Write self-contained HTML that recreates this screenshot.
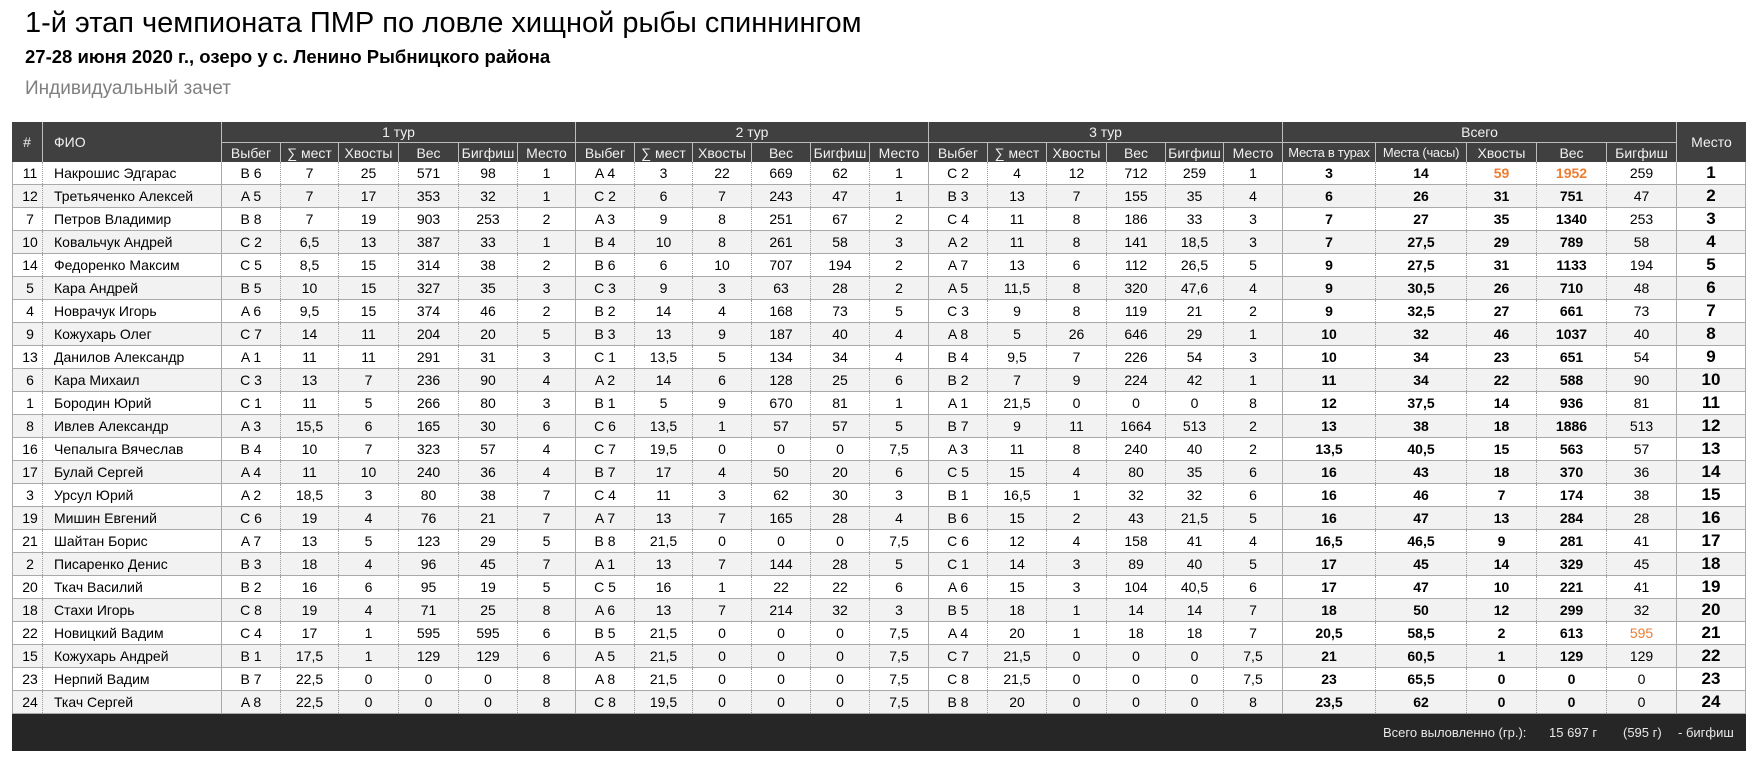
<!DOCTYPE html>
<html><head><meta charset="utf-8">
<style>
html,body{margin:0;padding:0}
body{width:1760px;height:770px;background:#fff;position:relative;overflow:hidden;font-family:"Liberation Sans",sans-serif;color:#000}
.t1{position:absolute;left:25px;top:9px;font-size:29px;line-height:29px;white-space:nowrap}
.t2{position:absolute;left:25px;top:47px;font-size:18.5px;line-height:19px;font-weight:bold;white-space:nowrap}
.t3{position:absolute;left:25px;top:79px;font-size:19px;line-height:19px;color:#7f7f7f;white-space:nowrap}
.h{position:absolute;left:12px;top:122px;width:1734px;height:40px;background:#404040;color:#f0f0f0;font-size:14px}
.hc{position:absolute;top:0;box-sizing:border-box;border-right:1px solid #bdbdbd;display:flex;align-items:center;justify-content:center;white-space:nowrap}
.g{height:21px;border-bottom:1px solid #bdbdbd}
.h2{position:absolute;left:210px;top:21px;height:19px;display:flex}
.h2 span{display:flex;align-items:center;justify-content:center;box-sizing:border-box;border-right:1px solid #bdbdbd;height:19px;white-space:nowrap;flex:none}
.h2 span.s{font-size:13px;letter-spacing:-0.3px}
.b{position:absolute;left:12px;top:162px;width:1734px}
.r{display:flex;height:23px;box-sizing:border-box;border-bottom:1px solid #a9a9a9;font-size:14px;line-height:22px}
.r:nth-child(even){background:#f2f2f2}
.r span{display:block;box-sizing:border-box;border-right:1px dotted #9c9c9c;text-align:center;white-space:nowrap;overflow:hidden;flex:none}
.r span:nth-child(1){width:31px;border-left:1px solid #a9a9a9;padding-left:5px}
.r span:nth-child(2){width:179px;text-align:left;padding-left:11px;border-right:1px solid #a9a9a9}
.r span:nth-child(3){width:59px}
.r span:nth-child(4){width:58px}
.r span:nth-child(5){width:60px}
.r span:nth-child(6){width:60px}
.r span:nth-child(7){width:59px}
.r span:nth-child(8){width:58px;border-right:1px solid #a9a9a9}
.r span:nth-child(9){width:59px}
.r span:nth-child(10){width:58px}
.r span:nth-child(11){width:59px}
.r span:nth-child(12){width:59px}
.r span:nth-child(13){width:59px}
.r span:nth-child(14){width:59px;border-right:1px solid #a9a9a9}
.r span:nth-child(15){width:59px}
.r span:nth-child(16){width:59px}
.r span:nth-child(17){width:60px}
.r span:nth-child(18){width:59px}
.r span:nth-child(19){width:58px}
.r span:nth-child(20){width:59px;border-right:1px solid #a9a9a9}
.r span:nth-child(21){width:93px;font-weight:bold}
.r span:nth-child(22){width:91px;font-weight:bold}
.r span:nth-child(23){width:70px;font-weight:bold}
.r span:nth-child(24){width:70px;font-weight:bold}
.r span:nth-child(25){width:70px;border-right:1px solid #a9a9a9}
.r span:nth-child(26){width:69px;font-weight:bold;font-size:17px;border-right:1px solid #a9a9a9}
.r span.o{color:#ed7d31}
.f{position:absolute;left:12px;top:714px;width:1734px;height:37px;background:#262626}
.f span{position:absolute;top:0;line-height:37px;font-size:13px;color:#e8e8e8;white-space:nowrap}
</style></head>
<body>
<div class="t1">1-й этап чемпионата ПМР по ловле хищной рыбы спиннингом</div>
<div class="t2">27-28 июня 2020 г., озеро у с. Ленино Рыбницкого района</div>
<div class="t3">Индивидуальный зачет</div>

<div class="h">
 <div class="hc" style="left:0;width:31px;height:40px;">#</div>
 <div class="hc" style="left:31px;width:179px;height:40px;justify-content:flex-start;padding-left:11px;">ФИО</div>
 <div class="hc g" style="left:210px;width:354px;">1 тур</div>
 <div class="hc g" style="left:564px;width:353px;">2 тур</div>
 <div class="hc g" style="left:917px;width:354px;">3 тур</div>
 <div class="hc g" style="left:1271px;width:394px;">Всего</div>
 <div class="hc" style="left:1665px;width:69px;height:40px;border-right:none;">Место</div>
 <div class="h2">
  <span style="width:59px">Выбег</span><span style="width:58px">∑ мест</span><span style="width:60px">Хвосты</span><span style="width:60px">Вес</span><span style="width:59px">Бигфиш</span><span style="width:58px">Место</span>
  <span style="width:59px">Выбег</span><span style="width:58px">∑ мест</span><span style="width:59px">Хвосты</span><span style="width:59px">Вес</span><span style="width:59px">Бигфиш</span><span style="width:59px">Место</span>
  <span style="width:59px">Выбег</span><span style="width:59px">∑ мест</span><span style="width:60px">Хвосты</span><span style="width:59px">Вес</span><span style="width:58px">Бигфиш</span><span style="width:59px">Место</span>
  <span class="s" style="width:93px">Места в турах</span><span class="s" style="width:91px">Места (часы)</span><span style="width:70px">Хвосты</span><span style="width:70px">Вес</span><span style="width:70px">Бигфиш</span>
 </div>
</div>

<div class="b">
<div class="r"><span>11</span><span>Накрошис Эдгарас</span><span>B 6</span><span>7</span><span>25</span><span>571</span><span>98</span><span>1</span><span>A 4</span><span>3</span><span>22</span><span>669</span><span>62</span><span>1</span><span>C 2</span><span>4</span><span>12</span><span>712</span><span>259</span><span>1</span><span>3</span><span>14</span><span class="o">59</span><span class="o">1952</span><span>259</span><span>1</span></div>
<div class="r"><span>12</span><span>Третьяченко Алексей</span><span>A 5</span><span>7</span><span>17</span><span>353</span><span>32</span><span>1</span><span>C 2</span><span>6</span><span>7</span><span>243</span><span>47</span><span>1</span><span>B 3</span><span>13</span><span>7</span><span>155</span><span>35</span><span>4</span><span>6</span><span>26</span><span>31</span><span>751</span><span>47</span><span>2</span></div>
<div class="r"><span>7</span><span>Петров Владимир</span><span>B 8</span><span>7</span><span>19</span><span>903</span><span>253</span><span>2</span><span>A 3</span><span>9</span><span>8</span><span>251</span><span>67</span><span>2</span><span>C 4</span><span>11</span><span>8</span><span>186</span><span>33</span><span>3</span><span>7</span><span>27</span><span>35</span><span>1340</span><span>253</span><span>3</span></div>
<div class="r"><span>10</span><span>Ковальчук Андрей</span><span>C 2</span><span>6,5</span><span>13</span><span>387</span><span>33</span><span>1</span><span>B 4</span><span>10</span><span>8</span><span>261</span><span>58</span><span>3</span><span>A 2</span><span>11</span><span>8</span><span>141</span><span>18,5</span><span>3</span><span>7</span><span>27,5</span><span>29</span><span>789</span><span>58</span><span>4</span></div>
<div class="r"><span>14</span><span>Федоренко Максим</span><span>C 5</span><span>8,5</span><span>15</span><span>314</span><span>38</span><span>2</span><span>B 6</span><span>6</span><span>10</span><span>707</span><span>194</span><span>2</span><span>A 7</span><span>13</span><span>6</span><span>112</span><span>26,5</span><span>5</span><span>9</span><span>27,5</span><span>31</span><span>1133</span><span>194</span><span>5</span></div>
<div class="r"><span>5</span><span>Кара Андрей</span><span>B 5</span><span>10</span><span>15</span><span>327</span><span>35</span><span>3</span><span>C 3</span><span>9</span><span>3</span><span>63</span><span>28</span><span>2</span><span>A 5</span><span>11,5</span><span>8</span><span>320</span><span>47,6</span><span>4</span><span>9</span><span>30,5</span><span>26</span><span>710</span><span>48</span><span>6</span></div>
<div class="r"><span>4</span><span>Новрачук Игорь</span><span>A 6</span><span>9,5</span><span>15</span><span>374</span><span>46</span><span>2</span><span>B 2</span><span>14</span><span>4</span><span>168</span><span>73</span><span>5</span><span>C 3</span><span>9</span><span>8</span><span>119</span><span>21</span><span>2</span><span>9</span><span>32,5</span><span>27</span><span>661</span><span>73</span><span>7</span></div>
<div class="r"><span>9</span><span>Кожухарь Олег</span><span>C 7</span><span>14</span><span>11</span><span>204</span><span>20</span><span>5</span><span>B 3</span><span>13</span><span>9</span><span>187</span><span>40</span><span>4</span><span>A 8</span><span>5</span><span>26</span><span>646</span><span>29</span><span>1</span><span>10</span><span>32</span><span>46</span><span>1037</span><span>40</span><span>8</span></div>
<div class="r"><span>13</span><span>Данилов Александр</span><span>A 1</span><span>11</span><span>11</span><span>291</span><span>31</span><span>3</span><span>C 1</span><span>13,5</span><span>5</span><span>134</span><span>34</span><span>4</span><span>B 4</span><span>9,5</span><span>7</span><span>226</span><span>54</span><span>3</span><span>10</span><span>34</span><span>23</span><span>651</span><span>54</span><span>9</span></div>
<div class="r"><span>6</span><span>Кара Михаил</span><span>C 3</span><span>13</span><span>7</span><span>236</span><span>90</span><span>4</span><span>A 2</span><span>14</span><span>6</span><span>128</span><span>25</span><span>6</span><span>B 2</span><span>7</span><span>9</span><span>224</span><span>42</span><span>1</span><span>11</span><span>34</span><span>22</span><span>588</span><span>90</span><span>10</span></div>
<div class="r"><span>1</span><span>Бородин Юрий</span><span>C 1</span><span>11</span><span>5</span><span>266</span><span>80</span><span>3</span><span>B 1</span><span>5</span><span>9</span><span>670</span><span>81</span><span>1</span><span>A 1</span><span>21,5</span><span>0</span><span>0</span><span>0</span><span>8</span><span>12</span><span>37,5</span><span>14</span><span>936</span><span>81</span><span>11</span></div>
<div class="r"><span>8</span><span>Ивлев Александр</span><span>A 3</span><span>15,5</span><span>6</span><span>165</span><span>30</span><span>6</span><span>C 6</span><span>13,5</span><span>1</span><span>57</span><span>57</span><span>5</span><span>B 7</span><span>9</span><span>11</span><span>1664</span><span>513</span><span>2</span><span>13</span><span>38</span><span>18</span><span>1886</span><span>513</span><span>12</span></div>
<div class="r"><span>16</span><span>Чепалыга Вячеслав</span><span>B 4</span><span>10</span><span>7</span><span>323</span><span>57</span><span>4</span><span>C 7</span><span>19,5</span><span>0</span><span>0</span><span>0</span><span>7,5</span><span>A 3</span><span>11</span><span>8</span><span>240</span><span>40</span><span>2</span><span>13,5</span><span>40,5</span><span>15</span><span>563</span><span>57</span><span>13</span></div>
<div class="r"><span>17</span><span>Булай Сергей</span><span>A 4</span><span>11</span><span>10</span><span>240</span><span>36</span><span>4</span><span>B 7</span><span>17</span><span>4</span><span>50</span><span>20</span><span>6</span><span>C 5</span><span>15</span><span>4</span><span>80</span><span>35</span><span>6</span><span>16</span><span>43</span><span>18</span><span>370</span><span>36</span><span>14</span></div>
<div class="r"><span>3</span><span>Урсул Юрий</span><span>A 2</span><span>18,5</span><span>3</span><span>80</span><span>38</span><span>7</span><span>C 4</span><span>11</span><span>3</span><span>62</span><span>30</span><span>3</span><span>B 1</span><span>16,5</span><span>1</span><span>32</span><span>32</span><span>6</span><span>16</span><span>46</span><span>7</span><span>174</span><span>38</span><span>15</span></div>
<div class="r"><span>19</span><span>Мишин Евгений</span><span>C 6</span><span>19</span><span>4</span><span>76</span><span>21</span><span>7</span><span>A 7</span><span>13</span><span>7</span><span>165</span><span>28</span><span>4</span><span>B 6</span><span>15</span><span>2</span><span>43</span><span>21,5</span><span>5</span><span>16</span><span>47</span><span>13</span><span>284</span><span>28</span><span>16</span></div>
<div class="r"><span>21</span><span>Шайтан Борис</span><span>A 7</span><span>13</span><span>5</span><span>123</span><span>29</span><span>5</span><span>B 8</span><span>21,5</span><span>0</span><span>0</span><span>0</span><span>7,5</span><span>C 6</span><span>12</span><span>4</span><span>158</span><span>41</span><span>4</span><span>16,5</span><span>46,5</span><span>9</span><span>281</span><span>41</span><span>17</span></div>
<div class="r"><span>2</span><span>Писаренко Денис</span><span>B 3</span><span>18</span><span>4</span><span>96</span><span>45</span><span>7</span><span>A 1</span><span>13</span><span>7</span><span>144</span><span>28</span><span>5</span><span>C 1</span><span>14</span><span>3</span><span>89</span><span>40</span><span>5</span><span>17</span><span>45</span><span>14</span><span>329</span><span>45</span><span>18</span></div>
<div class="r"><span>20</span><span>Ткач Василий</span><span>B 2</span><span>16</span><span>6</span><span>95</span><span>19</span><span>5</span><span>C 5</span><span>16</span><span>1</span><span>22</span><span>22</span><span>6</span><span>A 6</span><span>15</span><span>3</span><span>104</span><span>40,5</span><span>6</span><span>17</span><span>47</span><span>10</span><span>221</span><span>41</span><span>19</span></div>
<div class="r"><span>18</span><span>Стахи Игорь</span><span>C 8</span><span>19</span><span>4</span><span>71</span><span>25</span><span>8</span><span>A 6</span><span>13</span><span>7</span><span>214</span><span>32</span><span>3</span><span>B 5</span><span>18</span><span>1</span><span>14</span><span>14</span><span>7</span><span>18</span><span>50</span><span>12</span><span>299</span><span>32</span><span>20</span></div>
<div class="r"><span>22</span><span>Новицкий Вадим</span><span>C 4</span><span>17</span><span>1</span><span>595</span><span>595</span><span>6</span><span>B 5</span><span>21,5</span><span>0</span><span>0</span><span>0</span><span>7,5</span><span>A 4</span><span>20</span><span>1</span><span>18</span><span>18</span><span>7</span><span>20,5</span><span>58,5</span><span>2</span><span>613</span><span class="o">595</span><span>21</span></div>
<div class="r"><span>15</span><span>Кожухарь Андрей</span><span>B 1</span><span>17,5</span><span>1</span><span>129</span><span>129</span><span>6</span><span>A 5</span><span>21,5</span><span>0</span><span>0</span><span>0</span><span>7,5</span><span>C 7</span><span>21,5</span><span>0</span><span>0</span><span>0</span><span>7,5</span><span>21</span><span>60,5</span><span>1</span><span>129</span><span>129</span><span>22</span></div>
<div class="r"><span>23</span><span>Нерпий Вадим</span><span>B 7</span><span>22,5</span><span>0</span><span>0</span><span>0</span><span>8</span><span>A 8</span><span>21,5</span><span>0</span><span>0</span><span>0</span><span>7,5</span><span>C 8</span><span>21,5</span><span>0</span><span>0</span><span>0</span><span>7,5</span><span>23</span><span>65,5</span><span>0</span><span>0</span><span>0</span><span>23</span></div>
<div class="r"><span>24</span><span>Ткач Сергей</span><span>A 8</span><span>22,5</span><span>0</span><span>0</span><span>0</span><span>8</span><span>C 8</span><span>19,5</span><span>0</span><span>0</span><span>0</span><span>7,5</span><span>B 8</span><span>20</span><span>0</span><span>0</span><span>0</span><span>8</span><span>23,5</span><span>62</span><span>0</span><span>0</span><span>0</span><span>24</span></div>
</div>

<div class="f">
 <span style="left:1371px">Всего выловленно (гр.):</span>
 <span style="left:1537px">15 697 г</span>
 <span style="left:1611px">(595 г)</span>
 <span style="left:1666px">- бигфиш</span>
</div>
</body></html>
